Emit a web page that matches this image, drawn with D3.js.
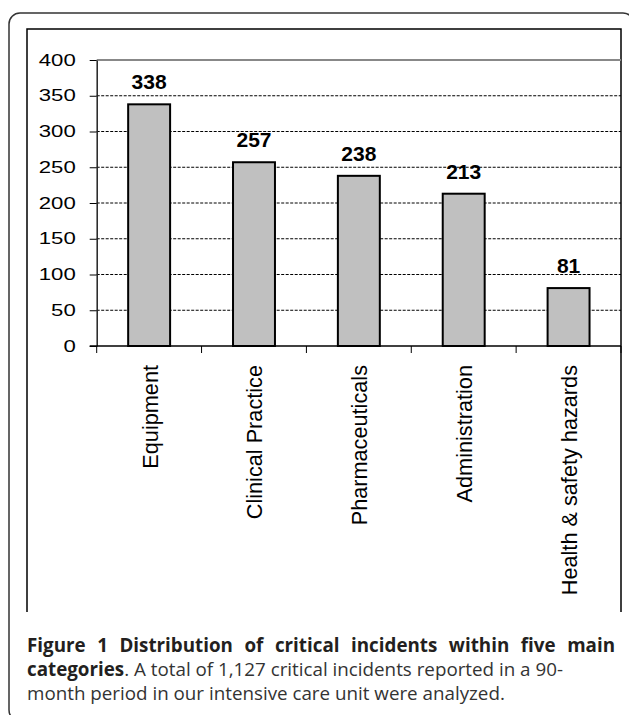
<!DOCTYPE html>
<html>
<head>
<meta charset="utf-8">
<script src="https://cdn.jsdelivr.net/npm/d3@7"></script>
<style>
body { margin: 0; background: #fff; }
</style>
</head>
<body>
<svg id="chart" width="629" height="715"></svg>
<script>
var categories = ['Equipment', 'Clinical Practice', 'Pharmaceuticals', 'Administration', 'Health & safety hazards'];
var counts = [338, 257, 238, 213, 81];
var yTicks = [0, 50, 100, 150, 200, 250, 300, 350, 400];
var captionBold = 'Figure 1 Distribution of critical incidents within five main';
var captionLine2Bold = 'categories';
var captionLine2 = '. A total of 1,127 critical incidents reported in a 90-';
var captionLine3 = 'month period in our intensive care unit were analyzed.';

var svg = d3.select('#chart');
var plotLeft = 96.7, plotRight = 621, plotTop = 60, plotBottom = 346;
var chartFont = '"Liberation Sans", Arial, sans-serif';
var capFont = '"Open Sans", sans-serif';

// outer rounded frame + inner chart box
svg.append('rect')
    .attr('x', 9).attr('y', 13)
    .attr('width', 625).attr('height', 708)
    .attr('rx', 11)
    .attr('fill', 'none')
    .attr('stroke', '#333')
    .attr('stroke-width', 1.5);

svg.append('path')
    .attr('d', 'M27,612V29H621V612')
    .attr('fill', 'none')
    .attr('stroke', '#000')
    .attr('stroke-width', 1.5);

var x = d3.scaleBand()
    .domain(categories)
    .range([plotLeft, plotRight])
    .paddingInner(0.6)
    .paddingOuter(0.3);

var y = d3.scaleLinear()
    .domain([0, 400])
    .range([plotBottom, plotTop]);

// gridlines
svg.append('g').selectAll('line')
    .data(yTicks.filter(function(d) { return d > 0 && d < 400; }))
    .enter().append('line')
    .attr('x1', plotLeft).attr('x2', plotRight)
    .attr('y1', function(d) { return y(d); })
    .attr('y2', function(d) { return y(d); })
    .attr('stroke', '#000')
    .attr('stroke-width', 1)
    .attr('stroke-dasharray', '3,1.5');

// plot area top border
svg.append('line')
    .attr('x1', plotLeft).attr('x2', plotRight)
    .attr('y1', y(400)).attr('y2', y(400))
    .attr('stroke', '#888')
    .attr('stroke-width', 2);

// y axis
var yAxis = svg.append('g')
    .attr('transform', 'translate(' + plotLeft + ',0)')
    .call(d3.axisLeft(y).tickValues(yTicks).tickSize(7).tickSizeOuter(0));
yAxis.select('.domain').attr('stroke', '#222').attr('stroke-width', 1.5);
yAxis.selectAll('.tick line').attr('stroke', '#000').attr('stroke-width', 1);
yAxis.selectAll('.tick text')
    .attr('x', 0)
    .attr('transform', 'translate(-21,0) scale(1.36,1)')
    .attr('font-family', chartFont)
    .attr('font-size', '16.3px')
    .attr('fill', '#000');

// bars
svg.append('g').selectAll('rect')
    .data(categories)
    .enter().append('rect')
    .attr('x', function(d) { return x(d); })
    .attr('y', function(d, i) { return y(counts[i]); })
    .attr('width', x.bandwidth())
    .attr('height', function(d, i) { return y(0) - y(counts[i]); })
    .attr('fill', '#c0c0c0')
    .attr('stroke', '#000')
    .attr('stroke-width', 2);

// value labels
svg.append('g').selectAll('text')
    .data(categories)
    .enter().append('text')
    .attr('x', function(d) { return x(d) + x.bandwidth() / 2; })
    .attr('y', function(d, i) { return y(counts[i]) - 15; })
    .attr('text-anchor', 'middle')
    .attr('font-family', chartFont)
    .attr('font-weight', 'bold')
    .attr('font-size', '21px')
    .text(function(d, i) { return counts[i]; });

// x axis line and boundary ticks
svg.append('line')
    .attr('x1', plotLeft - 7).attr('x2', plotRight)
    .attr('y1', y(0)).attr('y2', y(0))
    .attr('stroke', '#000')
    .attr('stroke-width', 1.5);

var edges = categories.map(function(d) { return x(d) - (x.step() - x.bandwidth()) / 2; });
edges.push(plotRight);
svg.append('g').selectAll('line')
    .data(edges)
    .enter().append('line')
    .attr('x1', function(d) { return d; }).attr('x2', function(d) { return d; })
    .attr('y1', y(0)).attr('y2', y(0) + 7)
    .attr('stroke', '#000')
    .attr('stroke-width', 1);

// category labels, rotated
svg.append('g').selectAll('text')
    .data(categories)
    .enter().append('text')
    .attr('transform', function(d) { return 'translate(' + (x(d) + x.bandwidth() / 2) + ',365) rotate(-90)'; })
    .attr('y', 8.5)
    .attr('text-anchor', 'end')
    .attr('font-family', chartFont)
    .attr('font-size', '21.7px')
    .text(function(d) { return d; });

// caption
var capLeft = 27, capRight = 615;
var capSize = '18.8px';

// justified first line
var words = captionBold.split(' ');
var wordNodes = svg.append('g').selectAll('text')
    .data(words)
    .enter().append('text')
    .attr('y', 652)
    .attr('font-family', capFont)
    .attr('font-weight', 'bold')
    .attr('font-size', capSize)
    .attr('fill', '#231f20')
    .text(function(d) { return d; });
var widths = [];
wordNodes.each(function() { widths.push(this.getComputedTextLength()); });
var gap = (capRight - capLeft - d3.sum(widths)) / (words.length - 1);
var pos = capLeft;
wordNodes.attr('x', function(d, i) {
    var p = pos;
    pos += widths[i] + gap;
    return p;
});

var line2 = svg.append('text')
    .attr('x', capLeft).attr('y', 676)
    .attr('font-family', capFont)
    .attr('font-size', capSize)
    .attr('fill', '#231f20');
line2.append('tspan').attr('font-weight', 'bold').text(captionLine2Bold);
line2.append('tspan').attr('fill', '#333').text(captionLine2);

svg.append('text')
    .attr('x', capLeft).attr('y', 700)
    .attr('font-family', capFont)
    .attr('font-size', capSize)
    .attr('fill', '#333')
    .text(captionLine3);
</script>
</body>
</html>
